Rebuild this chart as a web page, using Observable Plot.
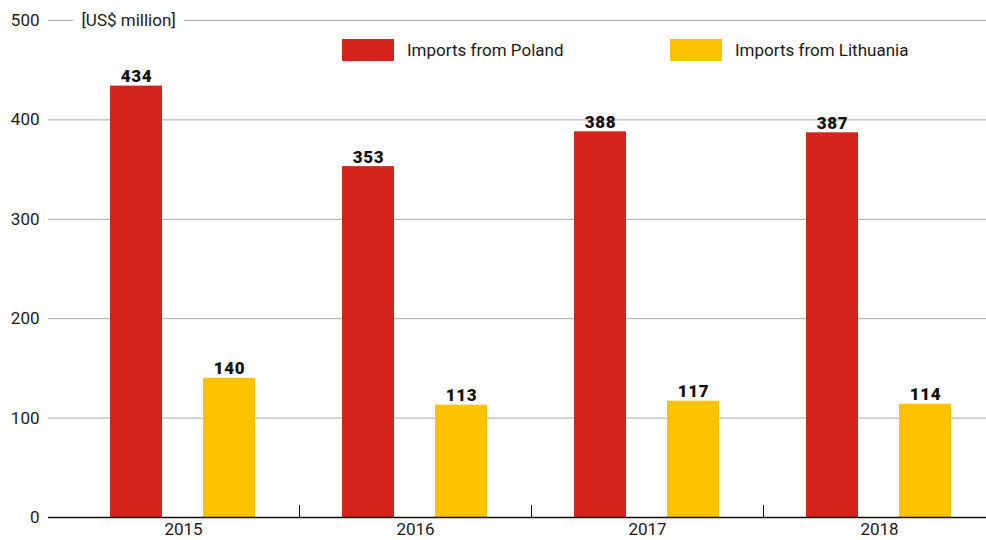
<!DOCTYPE html>
<html>
<head>
<meta charset="utf-8">
<script src="https://cdn.jsdelivr.net/npm/d3@7"></script>
<script src="https://cdn.jsdelivr.net/npm/@observablehq/plot@0.6"></script>
<style>
  html, body { margin: 0; padding: 0; background: #fff; }
  #wrap { position: relative; width: 986px; height: 540px; font-family: Roboto, "Noto Sans", sans-serif; }
  .lg { position: absolute; top: 39px; display: flex; align-items: center; height: 22px; font-size: 17px; color: #1a1a1a; }
  .sw { width: 52px; height: 22px; margin-right: 13px; }
  .vlab { letter-spacing: 0.6px; }
</style>
</head>
<body>
<div id="wrap"></div>
<script>
const years = ["2015", "2016", "2017", "2018"];
const poland = [434, 353, 388, 387];
const lithuania = [140, 113, 117, 114];
const seriesNames = ["Imports from Poland", "Imports from Lithuania"];
const colors = ["#d4231a", "#fdc300"];
const yTicks = [0, 100, 200, 300, 400, 500];
const unitLabel = "[US$ million]";

const polData = years.map((y, i) => ({year: y, value: poland[i]}));
const litData = years.map((y, i) => ({year: y, value: lithuania[i]}));

const chart = Plot.plot({
  width: 986,
  height: 540,
  marginLeft: 48,
  marginRight: 0,
  marginTop: 20,
  marginBottom: 23,
  style: {fontFamily: "Roboto, 'Noto Sans', sans-serif", fontSize: "17px", color: "#1a1a1a", background: "#fff"},
  x: {type: "band", domain: years, range: [67, 995], padding: 0},
  y: {domain: [0, 500]},
  marks: [
    Plot.gridY(yTicks, {stroke: "#a8a8a8", strokeOpacity: 1, strokeWidth: 1}),
    Plot.axisY(yTicks, {tickSize: 0, tickPadding: 9, fontSize: 17, fill: "#1a1a1a", label: null}),
    Plot.text([unitLabel], {frameAnchor: "top-left", lineAnchor: "middle", dx: 33, textAnchor: "start", fontSize: 17, fill: "#1a1a1a", stroke: "white", strokeWidth: 19}),
    Plot.barY(polData, {x: "year", y: "value", fill: colors[0], insetLeft: 43, insetRight: 137}),
    Plot.barY(litData, {x: "year", y: "value", fill: colors[1], insetLeft: 136, insetRight: 44}),
    Plot.text(polData, {x: "year", y: "value", text: d => String(d.value), dx: -47, dy: -4, lineAnchor: "bottom", fontSize: 17, fontWeight: 900, fill: "#111", className: "vlab"}),
    Plot.text(litData, {x: "year", y: "value", text: d => String(d.value), dx: 46, dy: -4, lineAnchor: "bottom", fontSize: 17, fontWeight: 900, fill: "#111", className: "vlab"}),
    Plot.ruleY([0], {stroke: "#111", strokeWidth: 1.5}),
    Plot.ruleX(years.slice(0, -1), {x: d => d, dx: 116, y1: 0, y2: 12, stroke: "#111", strokeWidth: 1}),
    Plot.axisX({tickSize: 0, tickPadding: 5, fontSize: 17, fill: "#1a1a1a", label: null})
  ]
});

const wrap = document.getElementById("wrap");
wrap.appendChild(chart);

const legendLefts = [342, 670];
seriesNames.forEach((name, i) => {
  const item = document.createElement("div");
  item.className = "lg";
  item.style.left = legendLefts[i] + "px";
  const sw = document.createElement("div");
  sw.className = "sw";
  sw.style.background = colors[i];
  const tx = document.createElement("span");
  tx.textContent = name;
  item.appendChild(sw);
  item.appendChild(tx);
  wrap.appendChild(item);
});
</script>
</body>
</html>
